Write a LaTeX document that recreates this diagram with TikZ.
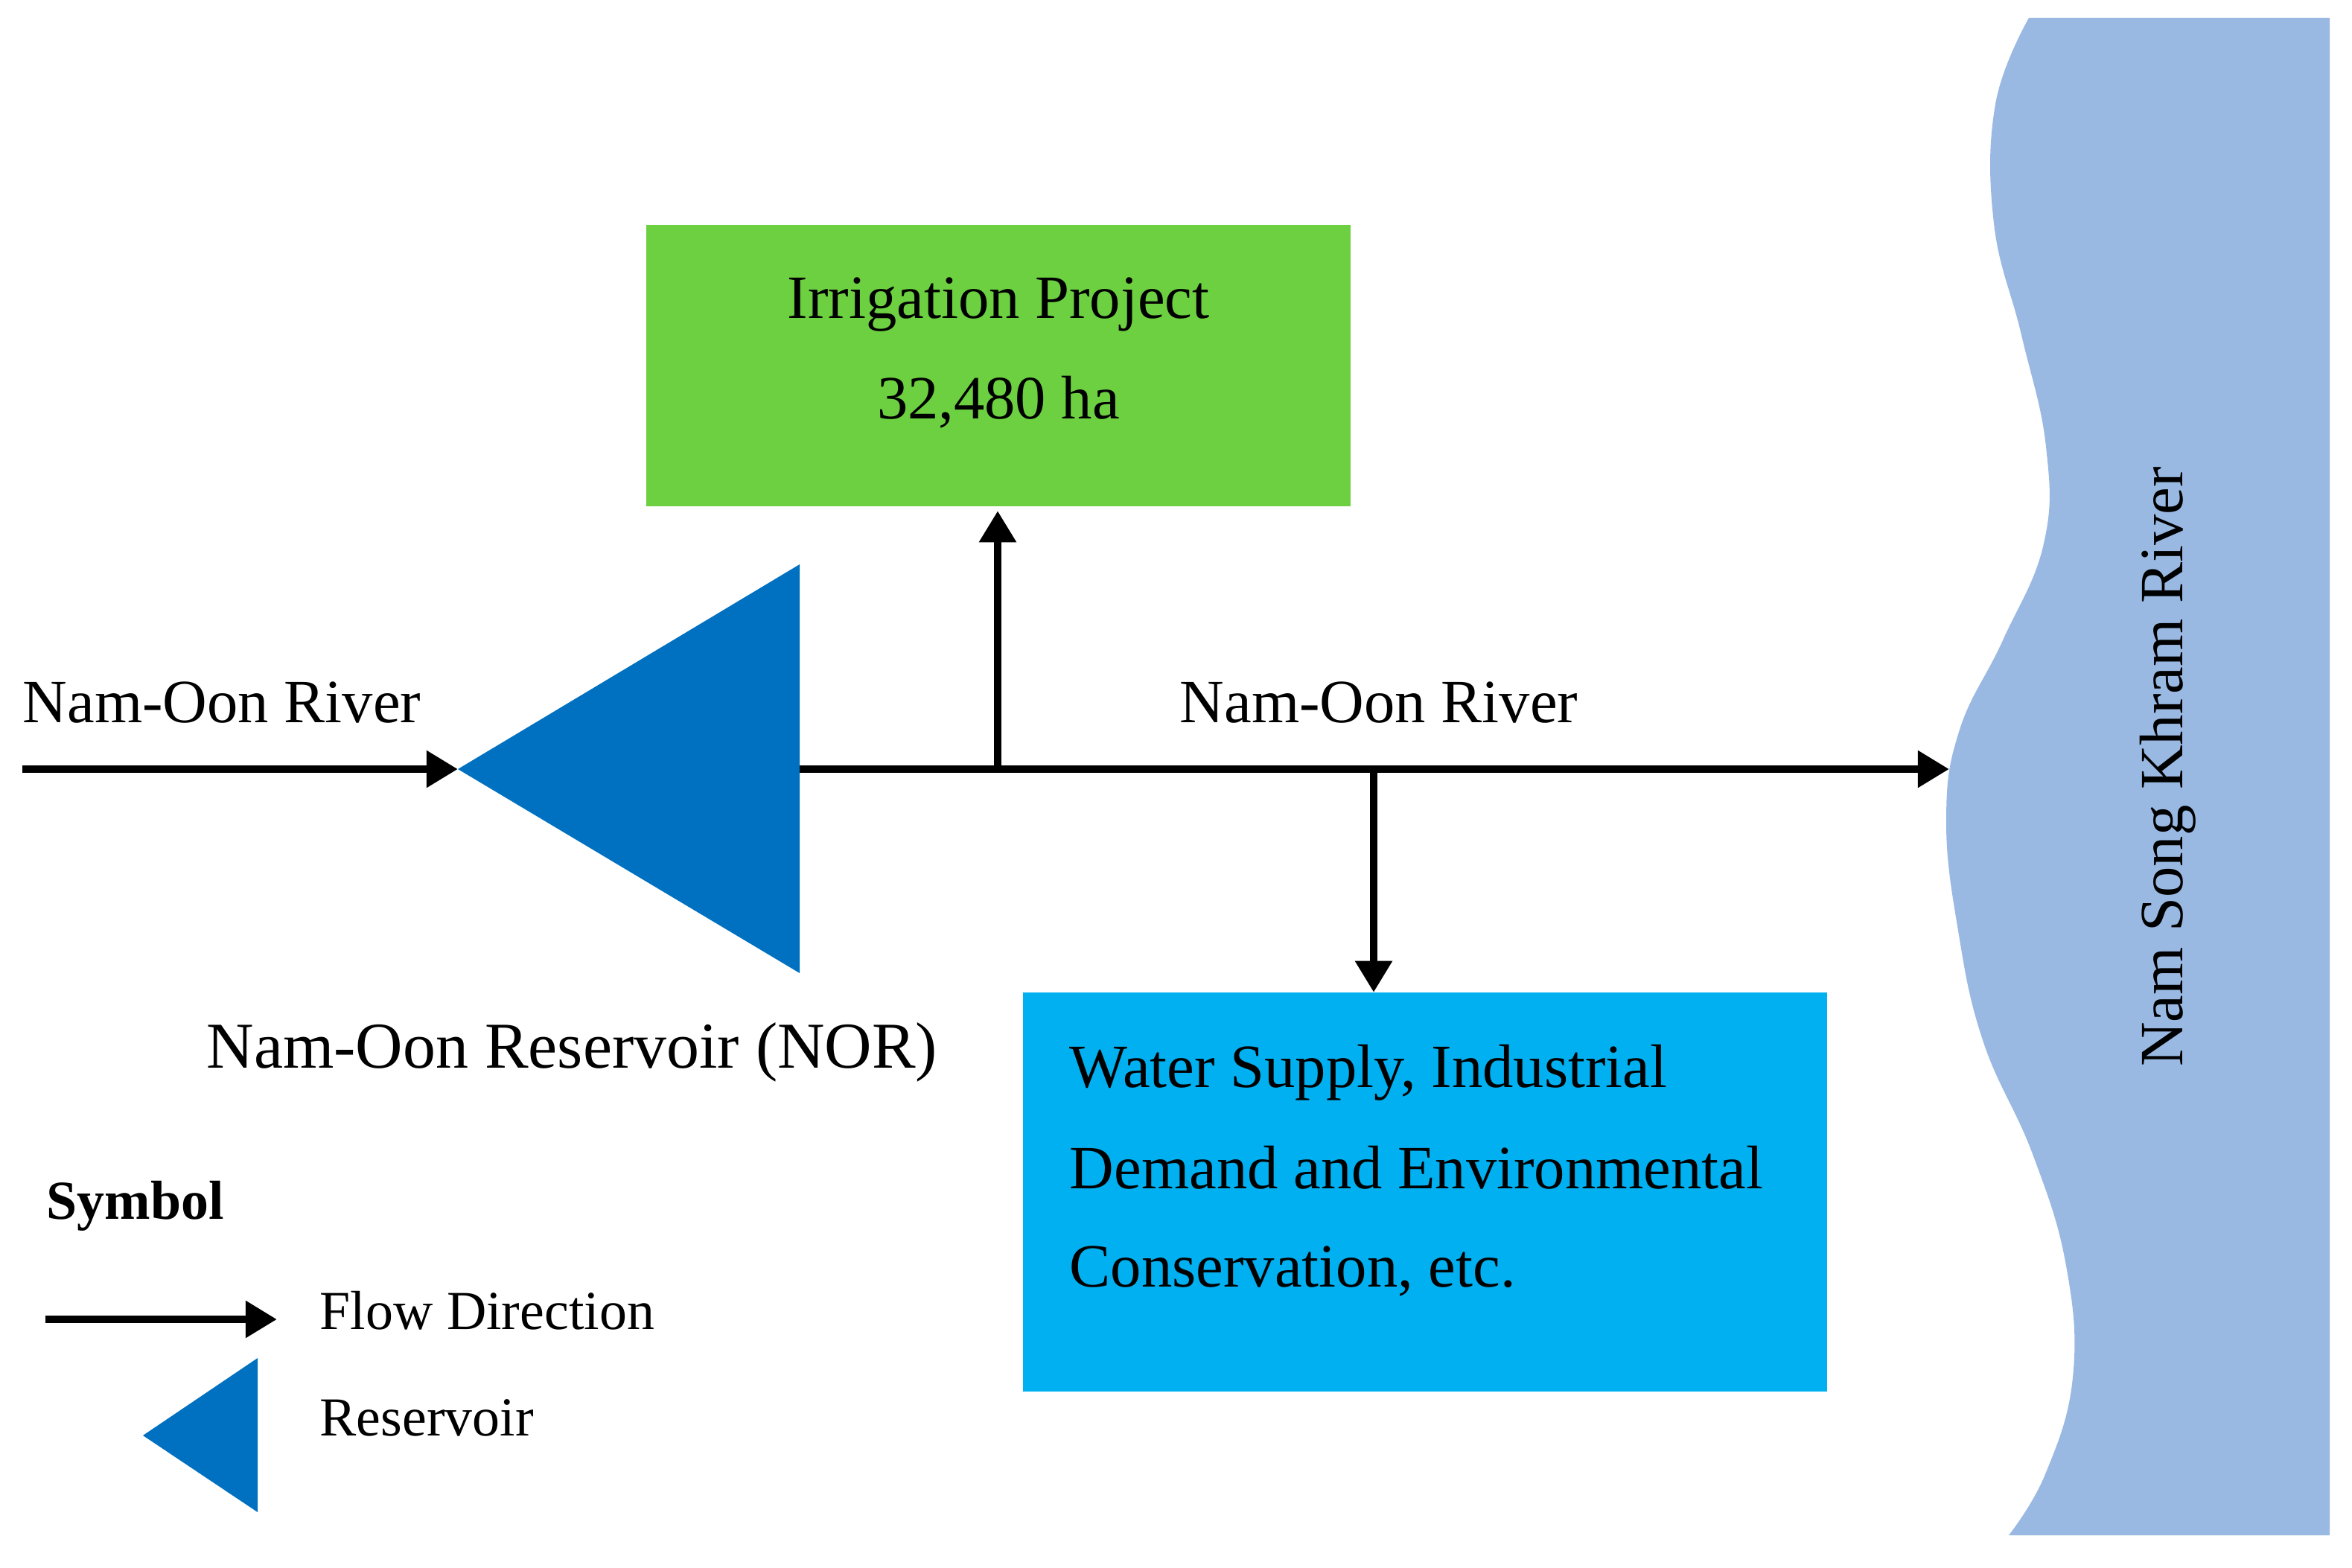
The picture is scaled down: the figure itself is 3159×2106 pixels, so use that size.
\documentclass[tikz,border=0pt]{standalone}
\usepackage{fontspec}
\setmainfont{Liberation Serif}
\usetikzlibrary{arrows.meta}
\definecolor{irrgreen}{RGB}{108,208,64}
\definecolor{supplyblue}{RGB}{0,176,240}
\definecolor{resblue}{RGB}{0,112,192}
\definecolor{riverblue}{RGB}{153,185,227}
\begin{document}
\begin{tikzpicture}[x=0.01cm,y=-0.01cm,
  flow/.style={line width=3.1pt,-{Triangle[length=12pt,width=13.5pt]}},
  lbl/.style={inner sep=0pt,font=\fontsize{23.5pt}{28pt}\selectfont},
  leg/.style={inner sep=0pt,font=\fontsize{21pt}{25pt}\selectfont},
  box/.style={inner sep=0pt,outer sep=0pt,draw=none}]
\useasboundingbox (0,0) rectangle (3159,2106);
% receiving river
\fill[riverblue] plot[smooth,tension=0.7] coordinates {
  (2725,24) (2680,140) (2678,300) (2715,450) (2748,600) (2745,730)
  (2690,860) (2632,980) (2614,1100) (2630,1250) (2664,1400) (2730,1550)
  (2775,1700) (2784,1850) (2747,1980) (2698,2062)}
  -- (3129,2062) -- (3129,24) -- cycle;
\node[lbl,rotate=90,anchor=base] (nsk) at (2931,1030) {Nam Song Khram River};
% boxes
\node[box,fill=irrgreen,minimum width=9.45cm,minimum height=3.78cm] (irr) at (1341,491) {};
\node[lbl,anchor=base] (irrt1) at (1341,427) {Irrigation Project};
\node[lbl,anchor=base] (irrt2) at (1341,562) {32,480 ha};
\node[box,fill=supplyblue,minimum width=10.8cm,minimum height=5.36cm] (wsd) at (1914,1601) {};
\node[lbl,anchor=base west] (wsd1) at (1436,1460) {Water Supply, Industrial};
\node[lbl,anchor=base west] (wsd2) at (1436,1596) {Demand and Environmental};
\node[lbl,anchor=base west] (wsd3) at (1436,1728) {Conservation, etc.};
% reservoir
\coordinate (apex) at (615,1033);
\coordinate (tr) at (1074,758);
\coordinate (br) at (1074,1307);
\coordinate (tmid) at (1074,1033);
\fill[resblue] (apex) -- (tr) -- (br) -- cycle;
\node[inner sep=0pt,anchor=base west,font=\fontsize{25pt}{30pt}\selectfont] (nor) at (277,1434) {Nam-Oon Reservoir (NOR)};
% river line
\coordinate (src) at (30,1033);
\coordinate (outlet) at (2618,1033);
\coordinate (j1) at (1340,1033);
\coordinate (j2) at (1845,1033);
\draw[flow] (src) -- (apex);
\draw[flow] (tmid) -- (outlet);
\draw[flow] (j1) -- ([yshift=-0.06cm]j1 |- irr.south);
\draw[flow] (j2) -- (j2 |- wsd.north);
\node[lbl,anchor=base west] (riv1) at (30,970) {Nam-Oon River};
\node[lbl,anchor=base west] (riv2) at (1584,970) {Nam-Oon River};
% legend
\node[leg,anchor=base west,font=\fontsize{21pt}{25pt}\selectfont\bfseries] (sym) at (62,1637) {Symbol};
\coordinate (ls) at (61,1772);
\coordinate (le) at (372,1772);
\draw[flow] (ls) -- (le);
\node[leg,anchor=base west] (fd) at (429,1785) {Flow Direction};
\fill[resblue] (192,1928) -- (346,1824) -- (346,2031) -- cycle;
\node[leg,anchor=base west] (resl) at (429,1928) {Reservoir};
\end{tikzpicture}
\end{document}
